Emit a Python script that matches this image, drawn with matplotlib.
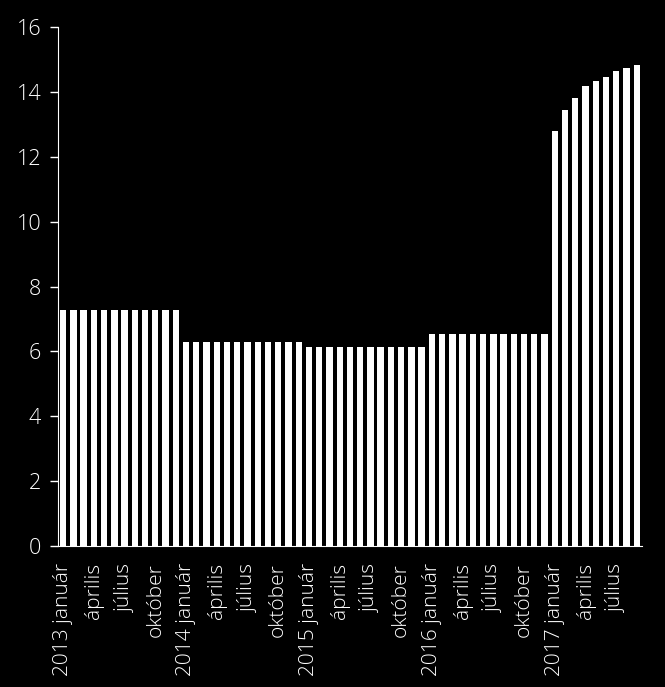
import matplotlib.pyplot as plt
import numpy as np

# havi értékek 2013 január - 2017 szeptember
ertek_2013 = [7.27] * 12
ertek_2014 = [6.29] * 12
ertek_2015 = [6.13] * 12
ertek_2016 = [6.54] * 12
ertek_2017 = [12.80, 13.44, 13.81, 14.18, 14.33, 14.46, 14.64, 14.73, 14.83]

evek = [2013, 2014, 2015, 2016, 2017]
honapok = ["január", "április", "július", "október"]

ertekek = ertek_2013 + ertek_2014 + ertek_2015 + ertek_2016 + ertek_2017
x = np.arange(len(ertekek))

cimkek = []
for i in x[::3]:
    ev = evek[i // 12]
    ho = honapok[(i % 12) // 3]
    cimkek.append(f"{ev} {ho}" if ho == "január" else ho)

plt.rcParams['font.family'] = ['Open Sans', 'DejaVu Sans']

fig = plt.figure(figsize=(6.65, 6.87), dpi=100, facecolor="black")
ax = fig.add_axes([0.0872, 0.2052, 0.878, 0.7555])
ax.set_facecolor("black")

ax.bar(x, ertekek, width=0.62, color="white")

ax.set_xlim(-0.5, len(ertekek) - 0.5)
ax.set_ylim(0, 16)
ax.set_yticks(range(0, 17, 2))
ax.set_xticks(x[::3])
ax.set_xticklabels(cimkek, rotation=90, fontsize=15, fontweight="light", color="white")
ax.tick_params(axis="x", length=0, pad=12)
ax.tick_params(axis="y", colors="white", labelsize=15.5, length=6, width=1, direction="out", pad=6)
for t in ax.get_yticklabels():
    t.set_fontweight("light")

for s in ["top", "right"]:
    ax.spines[s].set_visible(False)
for s in ["left", "bottom"]:
    ax.spines[s].set_color("white")

fig.savefig("out.png", dpi=100, facecolor="black")
